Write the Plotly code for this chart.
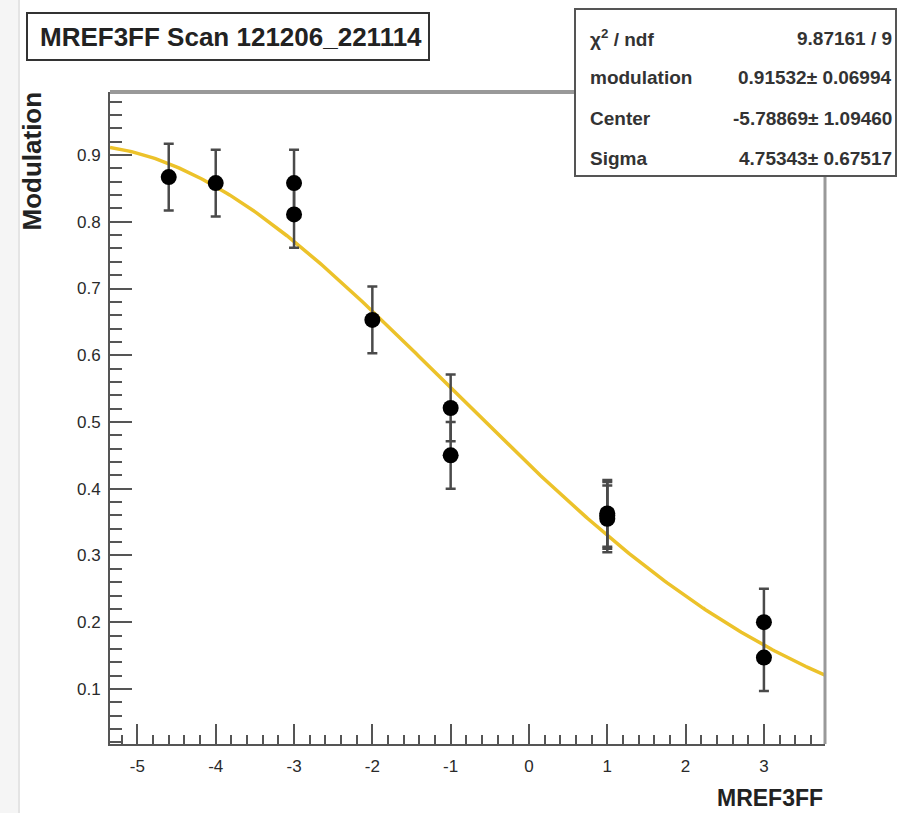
import numpy as np
import plotly.graph_objects as go

# ---- data ----
x_vals = [-4.6, -4, -3, -3, -2, -1, -1, 1, 1, 1, 3, 3]
y_vals = [0.867, 0.858, 0.858, 0.811, 0.653, 0.521, 0.450, 0.355, 0.360, 0.363, 0.200, 0.147]
y_errs = [0.05, 0.05, 0.05, 0.05, 0.05, 0.05, 0.05, 0.05, 0.05, 0.05, 0.05, 0.05]

# fit parameters shown in the stats box (Gaussian fit)
fit_modulation = 0.91532
fit_center = -5.78869
fit_sigma = 4.75343

stats_labels = ["χ<sup>2</sup> / ndf", "modulation", "Center", "Sigma"]
stats_values = ["9.87161 / 9", "0.91532± 0.06994", "-5.78869± 1.09460", "4.75343± 0.67517"]

x_tick_vals = [-5, -4, -3, -2, -1, 0, 1, 2, 3]
x_tick_text = ["-5", "-4", "-3", "-2", "-1", "0", "1", "2", "3"]
y_tick_vals = [0.1, 0.2, 0.3, 0.4, 0.5, 0.6, 0.7, 0.8, 0.9]
y_tick_text = ["0.1", "0.2", "0.3", "0.4", "0.5", "0.6", "0.7", "0.8", "0.9"]

title_text = "MREF3FF Scan 121206_221114"
x_title = "MREF3FF"
y_title = "Modulation"

X_RANGE = [-5.35, 3.78]
Y_RANGE = [0.0175, 0.9945]

W, H = 898, 813
L, R, T, B = 110, 73, 92, 69
PW, PH = W - L - R, H - T - B


def px(xp):
    return (xp - L) / PW


def py(yp):
    return (H - B - yp) / PH


fx = np.linspace(X_RANGE[0], X_RANGE[1], 300)
fy = fit_modulation * np.exp(-0.5 * ((fx - fit_center) / fit_sigma) ** 2)

fig = go.Figure()
fig.add_trace(go.Scatter(
    x=fx, y=fy, mode="lines",
    line=dict(color="#ecc22a", width=3.5),
    hoverinfo="skip", showlegend=False,
))
fig.add_trace(go.Scatter(
    x=x_vals, y=y_vals, mode="markers",
    marker=dict(color="black", size=16),
    error_y=dict(type="data", array=y_errs, color="#4a4a4a", thickness=2.5, width=5),
    showlegend=False,
))

font_family = "Liberation Sans, Arial, sans-serif"

fig.update_xaxes(
    range=X_RANGE, tickvals=x_tick_vals, ticktext=x_tick_text,
    showgrid=False, zeroline=False,
    showline=True, linecolor="#555555", linewidth=2,
    ticks="inside", ticklen=20, tickcolor="#555555", tickwidth=2,
    minor=dict(dtick=0.2, tick0=0, ticks="inside", ticklen=9, tickcolor="#555555", tickwidth=2, showgrid=False),
    tickfont=dict(family=font_family, size=17, color="#2a2a2a"),
    ticklabelstandoff=6,
)
fig.update_yaxes(
    range=Y_RANGE, tickvals=y_tick_vals, ticktext=y_tick_text,
    showgrid=False, zeroline=False,
    showline=True, linecolor="#555555", linewidth=2,
    ticks="inside", ticklen=22, tickcolor="#555555", tickwidth=2,
    minor=dict(dtick=0.02, tick0=0, ticks="inside", ticklen=12, tickcolor="#555555", tickwidth=2, showgrid=False),
    tickfont=dict(family=font_family, size=17, color="#2a2a2a"),
    ticklabelstandoff=4,
)

shapes = []
# light strip on the left edge of the canvas
shapes.append(dict(type="rect", xref="paper", yref="paper",
                   x0=px(0), x1=px(20), y0=py(H), y1=py(0),
                   fillcolor="#f5f5f5", line=dict(width=0), layer="below"))
shapes.append(dict(type="line", xref="paper", yref="paper",
                   x0=px(19), x1=px(19), y0=py(H), y1=py(0),
                   line=dict(color="#e4e4e4", width=2)))
# top and right frame
shapes.append(dict(type="line", xref="paper", yref="paper",
                   x0=0, x1=1, y0=1, y1=1, line=dict(color="#999999", width=4)))
shapes.append(dict(type="line", xref="paper", yref="paper",
                   x0=1, x1=1, y0=0, y1=1, line=dict(color="#999999", width=3)))
# title box
shapes.append(dict(type="rect", xref="paper", yref="paper",
                   x0=px(27), x1=px(429), y0=py(60), y1=py(13),
                   fillcolor="white", line=dict(color="#333333", width=2)))
# stats box
shapes.append(dict(type="rect", xref="paper", yref="paper",
                   x0=px(575), x1=px(896), y0=py(176), y1=py(9),
                   fillcolor="white", line=dict(color="#555555", width=2)))

annotations = []
annotations.append(dict(text="<b>" + title_text + "</b>", xref="paper", yref="paper",
                        x=px(231), y=py(37), xanchor="center", yanchor="middle",
                        showarrow=False, font=dict(family=font_family, size=26, color="#222222")))
row_y = [38, 78, 118, 158]
for lab, val, ry in zip(stats_labels, stats_values, row_y):
    annotations.append(dict(text="<b>" + lab + "</b>", xref="paper", yref="paper",
                            x=px(588), y=py(ry), xanchor="left", yanchor="middle",
                            showarrow=False, font=dict(family=font_family, size=19, color="#333333")))
    annotations.append(dict(text="<b>" + val + "</b>", xref="paper", yref="paper",
                            x=px(894), y=py(ry), xanchor="right", yanchor="middle",
                            showarrow=False, font=dict(family=font_family, size=19, color="#333333")))
annotations.append(dict(text="<b>" + x_title + "</b>", xref="paper", yref="paper",
                        x=px(825), y=py(798), xanchor="right", yanchor="middle",
                        showarrow=False, font=dict(family=font_family, size=23, color="#222222")))
annotations.append(dict(text="<b>" + y_title + "</b>", xref="paper", yref="paper",
                        x=px(31), y=py(90), xanchor="center", yanchor="top", textangle=-90,
                        showarrow=False, font=dict(family=font_family, size=26, color="#222222")))

fig.update_layout(
    width=W, height=H,
    margin=dict(l=L, r=R, t=T, b=B),
    paper_bgcolor="white", plot_bgcolor="white",
    shapes=shapes, annotations=annotations,
    showlegend=False,
)

fig.write_html("out.html")
